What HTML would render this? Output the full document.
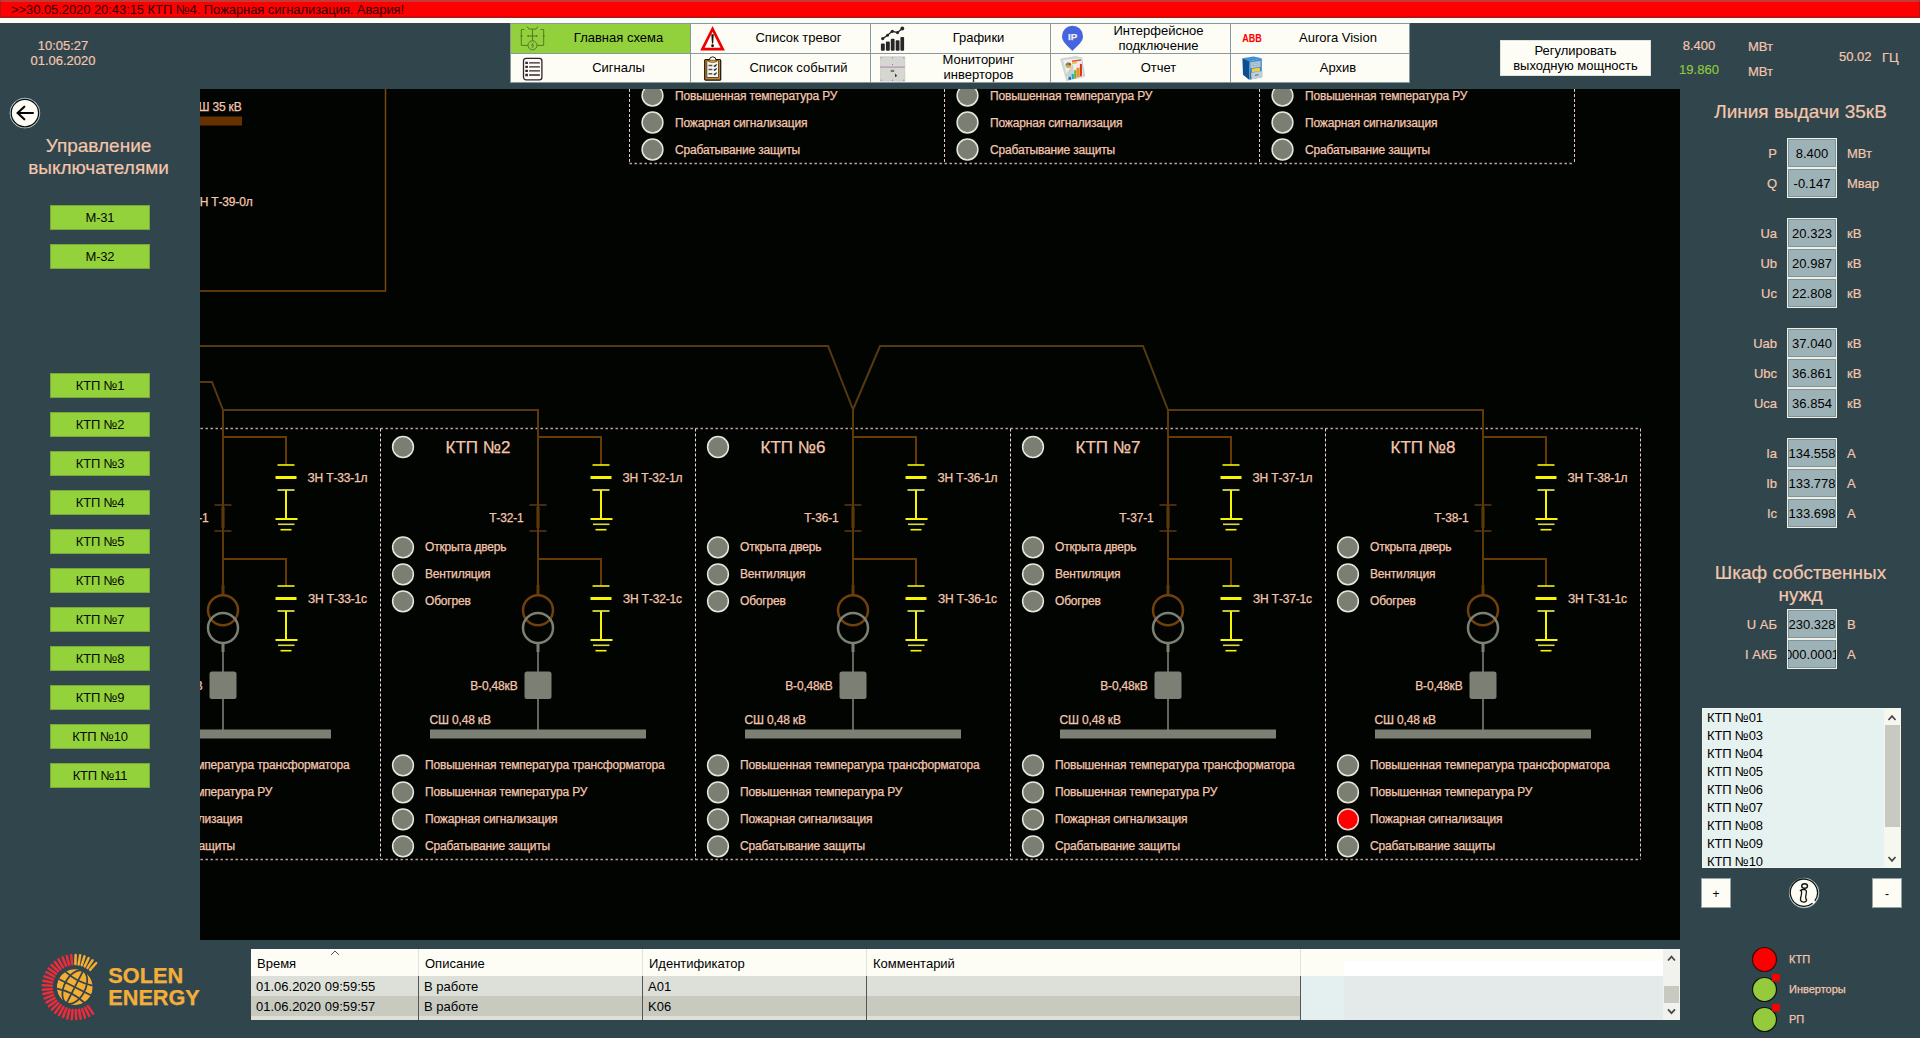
<!DOCTYPE html>
<html lang="ru"><head><meta charset="utf-8"><title>SCADA</title>
<style>
*{box-sizing:border-box;margin:0;padding:0}
html,body{width:1920px;height:1038px;overflow:hidden;background:#30454c;font-family:"Liberation Sans",sans-serif;}
body{position:relative}
.abs{position:absolute}
.t{position:absolute;white-space:nowrap;color:#f3c6ae;font-size:12px;line-height:14px;-webkit-text-stroke:0.2px #f3c6ae}
.c{text-align:center}
.r{text-align:right}
.btn{position:absolute;background:#94d23c;color:#050a00;font-size:13px;line-height:23px;text-align:center;width:100px;height:25px;border:1px solid #78a83a;letter-spacing:-0.2px}
.nav{position:absolute;width:181px;height:31px;background:#fdfdf6;border:1px solid #879aa0;color:#000;font-size:13px;}
.nav .lbl{position:absolute;left:36px;right:0;top:-1px;height:29px;display:flex;align-items:center;justify-content:center;text-align:center;line-height:15px}
.nav svg{position:absolute;margin-top:-1px}
.vb{position:absolute;left:1787px;width:50px;height:29.500px;padding-top:1px;background:#9db2b7;border:1px solid #eef0e6;box-shadow:inset 0 0 0 1px #7f9398;color:#000;font-size:13px;line-height:28px;text-align:center;overflow:hidden;white-space:nowrap}
.vl{position:absolute;width:90px;left:1687px;text-align:right;color:#f3c6ae;font-size:13px;line-height:16px;white-space:nowrap;-webkit-text-stroke:0.2px #f3c6ae}
.vu{position:absolute;left:1847px;color:#f3c6ae;font-size:13px;line-height:16px;white-space:nowrap;-webkit-text-stroke:0.2px #f3c6ae}
.li{position:absolute;left:4px;letter-spacing:-0.15px;font-size:13px;line-height:18px;color:#000;white-space:nowrap}
</style></head><body>

<div class="abs" style="left:0;top:0;width:1920px;height:18px;background:#fe0000;border:1px solid #b01818;border-top:2px solid #c43a3a;border-bottom:2px solid #c01010"></div>
<div class="abs" style="left:0;top:18px;width:1920px;height:5px;background:#fdfdf8"></div>
<div class="abs" style="left:11px;top:2px;font-size:13px;line-height:16px;color:#2c0000;white-space:nowrap;letter-spacing:-0.07px">&gt;&gt;30.05.2020 20:43:15 КТП №4. Пожарная сигнализация. Авария!</div>
<div class="t c" style="left:13px;top:38px;width:100px;font-size:13px;line-height:15px">10:05:27<br>01.06.2020</div>
<div class="nav" style="left:510px;top:23px;height:30.5px;width:181px;background:#92d03c"><svg style="left:9px;top:2px" width="26" height="27" viewBox="0 0 26 27" fill="none" stroke="#56782c" stroke-width="1"><path d="M4.300 4.500h-3v15.900h6.700M20.700 4.500h3v15.900h-6.700"/><path d="M7 1.500l2 2.600h7l2-2.600"/><path d="M12.500 4.100v11.700"/><path d="M9.500 11h6" stroke-width="1.200"/><g fill="#56782c" stroke="none"><rect x="0.700" y="10.100" width="1.600" height="1.800"/><rect x="7.400" y="10.100" width="1.700" height="1.800"/><rect x="15.700" y="10.100" width="1.700" height="1.800"/><rect x="22.900" y="10.100" width="1.600" height="1.800"/></g><circle cx="12.500" cy="20.300" r="4.500"/><path d="M13.300 17.600l-1.800 2.600h2.200l-1.800 2.800" stroke-width="0.900"/></svg><div class="lbl">Главная схема</div></div>
<div class="nav" style="left:690px;top:23px;height:30.5px;width:181px;background:#fdfdf6"><svg style="left:9px;top:2px" width="28" height="27" viewBox="0 0 28 27"><path d="M12.550 4L2.400 24.150H22.700Z" fill="#fdfdf6" stroke="#ee0000" stroke-width="2.700" stroke-linejoin="miter"/><path d="M11.350 9.300h2.400l-0.600 9.200h-1.200z" fill="#111"/><circle cx="12.550" cy="20.750" r="1.400" fill="#111"/></svg><div class="lbl">Список тревог</div></div>
<div class="nav" style="left:870px;top:23px;height:30.5px;width:181px;background:#fdfdf6"><svg style="left:9px;top:3px" width="26" height="26" viewBox="0 0 26 26"><g fill="#262626"><rect x="0.900" y="17.500" width="3.900" height="7.300" rx="1"/><rect x="5.900" y="15.600" width="3.900" height="9.200" rx="1"/><rect x="10.800" y="12.800" width="3.800" height="12" rx="1"/><rect x="15.700" y="14.300" width="3.800" height="10.500" rx="1"/><rect x="20.400" y="10.900" width="3.700" height="13.900" rx="1"/></g><path d="M2.700 12.600L7.500 9.300L12.300 5.300L17.500 6.600L22.300 2.500" fill="none" stroke="#262626" stroke-width="1.300"/><g fill="#262626"><circle cx="2.700" cy="12.600" r="1.600"/><circle cx="7.500" cy="9.300" r="1.500"/><circle cx="12.300" cy="5.300" r="1.600"/><circle cx="17.500" cy="6.600" r="1.600"/><circle cx="22.300" cy="2.500" r="1.900"/></g></svg><div class="lbl">Графики</div></div>
<div class="nav" style="left:1050px;top:23px;height:30.5px;width:181px;background:#fdfdf6"><svg style="left:11px;top:2px" width="22" height="27" viewBox="0 0 22 27"><path d="M10.400 26C5.500 20.500 0 17.200 0 11.200a10.500 10.400 0 0 1 21 0c0 6-5.500 9.300-10.600 14.800z" fill="#4565e0"/><text x="10.700" y="14.700" font-family="Liberation Sans, sans-serif" font-size="9.800" font-weight="bold" fill="#eef2ff" text-anchor="middle">IP</text></svg><div class="lbl">Интерфейсное<br>подключение</div></div>
<div class="nav" style="left:1230px;top:23px;height:30.5px;width:180px;background:#fdfdf6"><svg style="left:11px;top:10px" width="24" height="12" viewBox="0 0 24 12"><text x="0.300" y="9.400" font-family="Liberation Sans, sans-serif" font-size="10.600" font-weight="bold" fill="#ff0000" stroke="#ff0000" stroke-width="1.100" textLength="19.500" lengthAdjust="spacingAndGlyphs">ABB</text></svg><div class="lbl">Aurora Vision</div></div>
<div class="nav" style="left:510px;top:52.5px;height:30px;width:181px;background:#fdfdf6"><svg style="left:11px;top:4px" width="22" height="25" viewBox="0 0 22 25" fill="none" stroke="#33222f" stroke-width="1.300"><rect x="1.500" y="1.300" width="18.400" height="21.600" rx="2.600" fill="#fdfdf6"/><path d="M7.100 5.900h10.800M7.100 9.900h10.800M7.100 13.900h10.800M7.100 18h10.800" stroke-width="1.400"/><path d="M3.300 5.900h2.600M3.300 9.900h2.600M3.300 13.900h2.600M3.300 18h2.600" stroke-width="2.400"/></svg><div class="lbl">Сигналы</div></div>
<div class="nav" style="left:690px;top:52.5px;height:30px;width:181px;background:#fdfdf6"><svg style="left:12px;top:3.500px" width="20" height="26" viewBox="0 0 20 26"><rect x="1.700" y="3.500" width="16" height="20.700" rx="1" fill="#c8842c" stroke="#1a1208" stroke-width="1.200"/><rect x="3.900" y="4.800" width="11.600" height="16.600" fill="#f6f6ee" stroke="#222" stroke-width="0.700"/><path d="M6.300 4.600Q6.300 0.800 9.700 0.800Q13.100 0.800 13.100 4.600" fill="#fdfdf6" stroke="#222" stroke-width="1"/><path d="M5.800 4.200h7.800v1.600q-3.900 1.600-7.800 0z" fill="#d8a028" stroke="#3a2a08" stroke-width="0.500"/><path d="M5.500 9.600h3.800M5.500 13.500h3.800M5.500 17.800h3.800" stroke="#555" stroke-width="1.500"/><path d="M10.800 9.600l1 0.800 1.800-2M10.800 13.500l1 0.800 1.800-2M10.800 17.800l1 0.800 1.800-2" stroke="#222" fill="none" stroke-width="1.200"/></svg><div class="lbl">Список событий</div></div>
<div class="nav" style="left:870px;top:52.5px;height:30px;width:181px;background:#fdfdf6"><svg style="left:9px;top:3px" width="26" height="26" viewBox="0 0 26 26"><rect x="0.200" y="0.750" width="24.600" height="24.450" fill="#d6d7d0"/><path d="M0.200 0.750h24.600v24.450h-24.600z" fill="none" stroke="#c4b4c4" stroke-width="0.500"/><path d="M0.200 11.100h24.600" stroke="#a878a8" stroke-width="0.900"/><rect x="10.700" y="13.800" width="3.500" height="2.200" fill="#77786f"/><path d="M15.100 17.600l2 2.200-2 1.400z" fill="#222"/><g fill="#b060b0"><rect x="0.700" y="1.300" width="1" height="1"/><rect x="12" y="1.300" width="1" height="1"/><rect x="23.300" y="1.300" width="1" height="1"/><rect x="0.700" y="23.700" width="1" height="1"/><rect x="12" y="23.700" width="1" height="1"/><rect x="23.300" y="23.700" width="1" height="1"/><rect x="12" y="8" width="1" height="1"/></g></svg><div class="lbl">Мониторинг<br>инверторов</div></div>
<div class="nav" style="left:1050px;top:52.5px;height:30px;width:181px;background:#fdfdf6"><svg style="left:9px;top:3px" width="28" height="28" viewBox="0 0 28 28"><path d="M0.700 3l15-2.400 6 1.500 3 18-18 4.500z" fill="#dfe4e6" stroke="#b4bcc0" stroke-width="0.600"/><path d="M2.500 3.500l19-1.800 2 19-16 3z" fill="#eef0ee" stroke="#bcc4c6" stroke-width="0.600"/><path d="M5 20L13 8l1 12z" fill="#c8d0d4"/><circle cx="8.400" cy="9.200" r="2.800" fill="#d8b030"/><path d="M8.400 9.200V6.400A2.800 2.800 0 0 1 11.200 9.200z" fill="#d83020"/><path d="M8.400 9.200V6.400A2.800 2.800 0 0 0 5.600 9.200z" fill="#30a0b8"/><path d="M12 4.500l9-1.300v1.600l-9 1.300z" fill="#e85030"/><path d="M12 6.600l5-0.800v1.400l-5 0.800z" fill="#e8b040"/><rect x="8.400" y="20.600" width="2.600" height="3.200" fill="#2870b0"/><rect x="11.600" y="18" width="2.300" height="5" fill="#28a8c0"/><rect x="14.200" y="14.200" width="2" height="8.300" fill="#68b030"/><rect x="16.400" y="11.700" width="3.200" height="9.500" fill="#f09020"/><rect x="19.900" y="7.900" width="2" height="12.400" fill="#d83018"/></svg><div class="lbl">Отчет</div></div>
<div class="nav" style="left:1230px;top:52.5px;height:30px;width:180px;background:#fdfdf6"><svg style="left:11px;top:3.500px" width="24" height="26" viewBox="0 0 24 26"><path d="M0.400 2.150L11.500 0.600L19.800 2.150L7.700 5.300Z" fill="#3f8fd8"/><path d="M0.400 2.150L7.700 5.300L7.100 23.800L1 18.700Z" fill="#0d4f8c"/><path d="M7.700 5.300L19.800 2.150V21.200L7.100 23.800Z" fill="#3a8ad0"/><path d="M8.350 6.300L18.500 4.700V11.100L8.350 12.300Z" fill="#b0c4d0"/><path d="M11.500 8.200l4-0.600v1.200l-4 0.600z" fill="#e4eaec" stroke="#7a8890" stroke-width="0.400"/><path d="M9.900 12.650L17.900 11.700V15.500L9.900 16.100Z" fill="#f4cc40"/><path d="M9 16.800L20.750 14.900L20.400 21.200L9.300 23.500Z" fill="#bcd0dc"/><path d="M8.300 14.500L9 16.800L9.300 23.500L8.300 22z" fill="#4a5a68"/><path d="M13 18.800l3.500-0.500v1l-3.500 0.500z" fill="#5a6468"/></svg><div class="lbl">Архив</div></div>
<div class="abs" style="left:1500px;top:40px;width:151px;height:36px;background:#fdfdf6;border:1px solid #dfe3dc;color:#000;font-size:13px;line-height:15px;text-align:center;padding-top:2px">Регулировать<br>выходную мощность</div>
<div class="t c" style="left:1669px;top:38px;width:60px;font-size:13px;line-height:15px">8.400</div>
<div class="t" style="left:1748px;top:39px;font-size:13px;line-height:15px">МВт</div>
<div class="t c" style="left:1669px;top:62px;width:60px;font-size:13px;line-height:15px;color:#8fc63e;-webkit-text-stroke:0.2px #8fc63e">19.860</div>
<div class="t" style="left:1748px;top:64px;font-size:13px;line-height:15px">МВт</div>
<div class="t" style="left:1839px;top:49px;font-size:13px;line-height:16px">50.02</div>
<div class="t" style="left:1882px;top:50px;font-size:13px;line-height:16px">ГЦ</div>
<svg class="abs" style="left:9px;top:97px" width="32" height="32" viewBox="0 0 32 32"><circle cx="15.900" cy="16.100" r="14.900" fill="#fdfdf6" stroke="#a9c0c8" stroke-width="0.900"/><circle cx="15.900" cy="16.100" r="13.700" fill="none" stroke="#10100c" stroke-width="1.300"/><path d="M24 16H9M15.300 9.700L8.600 16l6.700 6.300" fill="none" stroke="#050505" stroke-width="2.100" stroke-linecap="round" stroke-linejoin="miter"/></svg>
<div class="t c" style="left:0;top:135px;width:197px;font-size:19px;line-height:22px">Управление<br>выключателями</div>
<div class="btn" style="left:50px;top:205px">М-31</div>
<div class="btn" style="left:50px;top:244px">М-32</div>
<div class="btn" style="left:50px;top:373px">КТП №1</div>
<div class="btn" style="left:50px;top:412px">КТП №2</div>
<div class="btn" style="left:50px;top:451px">КТП №3</div>
<div class="btn" style="left:50px;top:490px">КТП №4</div>
<div class="btn" style="left:50px;top:529px">КТП №5</div>
<div class="btn" style="left:50px;top:568px">КТП №6</div>
<div class="btn" style="left:50px;top:607px">КТП №7</div>
<div class="btn" style="left:50px;top:646px">КТП №8</div>
<div class="btn" style="left:50px;top:685px">КТП №9</div>
<div class="btn" style="left:50px;top:724px">КТП №10</div>
<div class="btn" style="left:50px;top:763px">КТП №11</div>
<svg class="abs" style="left:38px;top:951px" width="170" height="72" viewBox="0 0 170 72"><path d="M37.40 13.11L37.64 3.91" stroke="#f5ad33" stroke-width="2.500" stroke-linecap="round"/><path d="M40.60 13.42L42.11 4.34" stroke="#f5ad33" stroke-width="2.500" stroke-linecap="round"/><path d="M43.72 14.16L46.48 5.39" stroke="#f5ad33" stroke-width="2.500" stroke-linecap="round"/><path d="M46.70 15.34L50.66 7.04" stroke="#f5ad33" stroke-width="2.500" stroke-linecap="round"/><path d="M49.49 16.92L54.57 9.25" stroke="#f5ad33" stroke-width="2.500" stroke-linecap="round"/><path d="M52.04 18.87L58.14 11.98" stroke="#f5ad33" stroke-width="2.500" stroke-linecap="round"/><path d="M34.20 13.25L33.15 4.11" stroke="#ee2b3b" stroke-width="2.500" stroke-linecap="round"/><path d="M31.04 13.83L28.74 4.93" stroke="#ee2b3b" stroke-width="2.500" stroke-linecap="round"/><path d="M28.00 14.85L24.48 6.35" stroke="#ee2b3b" stroke-width="2.500" stroke-linecap="round"/><path d="M25.13 16.28L20.46 8.36" stroke="#ee2b3b" stroke-width="2.500" stroke-linecap="round"/><path d="M22.48 18.10L16.76 10.90" stroke="#ee2b3b" stroke-width="2.500" stroke-linecap="round"/><path d="M20.12 20.27L13.44 13.93" stroke="#ee2b3b" stroke-width="2.500" stroke-linecap="round"/><path d="M18.08 22.74L10.59 17.40" stroke="#ee2b3b" stroke-width="2.500" stroke-linecap="round"/><path d="M16.40 25.48L8.24 21.23" stroke="#ee2b3b" stroke-width="2.500" stroke-linecap="round"/><path d="M15.12 28.42L6.45 25.35" stroke="#ee2b3b" stroke-width="2.500" stroke-linecap="round"/><path d="M14.26 31.51L5.25 29.68" stroke="#ee2b3b" stroke-width="2.500" stroke-linecap="round"/><path d="M13.84 34.70L4.66 34.13" stroke="#ee2b3b" stroke-width="2.500" stroke-linecap="round"/><path d="M13.87 37.90L4.70 38.63" stroke="#ee2b3b" stroke-width="2.500" stroke-linecap="round"/><path d="M14.35 41.08L5.36 43.07" stroke="#ee2b3b" stroke-width="2.500" stroke-linecap="round"/><path d="M15.26 44.15L6.64 47.38" stroke="#ee2b3b" stroke-width="2.500" stroke-linecap="round"/><path d="M16.59 47.07L8.50 51.46" stroke="#ee2b3b" stroke-width="2.500" stroke-linecap="round"/><path d="M18.31 49.78L10.92 55.25" stroke="#ee2b3b" stroke-width="2.500" stroke-linecap="round"/><path d="M20.40 52.22L13.83 58.67" stroke="#ee2b3b" stroke-width="2.500" stroke-linecap="round"/><path d="M22.80 54.35L17.20 61.65" stroke="#ee2b3b" stroke-width="2.500" stroke-linecap="round"/><path d="M25.47 56.12L20.94 64.13" stroke="#ee2b3b" stroke-width="2.500" stroke-linecap="round"/><path d="M28.37 57.50L25.00 66.06" stroke="#ee2b3b" stroke-width="2.500" stroke-linecap="round"/><path d="M31.43 58.46L29.28 67.41" stroke="#ee2b3b" stroke-width="2.500" stroke-linecap="round"/><path d="M34.60 58.99L33.71 68.15" stroke="#ee2b3b" stroke-width="2.500" stroke-linecap="round"/><path d="M37.80 59.08L38.20 68.27" stroke="#ee2b3b" stroke-width="2.500" stroke-linecap="round"/><path d="M40.99 58.71L42.67 67.76" stroke="#ee2b3b" stroke-width="2.500" stroke-linecap="round"/><path d="M44.10 57.91L47.02 66.64" stroke="#ee2b3b" stroke-width="2.500" stroke-linecap="round"/><path d="M47.06 56.68L51.17 64.92" stroke="#ee2b3b" stroke-width="2.500" stroke-linecap="round"/><path d="M49.83 55.05L55.04 62.64" stroke="#ee2b3b" stroke-width="2.500" stroke-linecap="round"/><circle cx="36.8" cy="36.1" r="18" fill="#f5ad33"/><g transform="translate(36.8 36.1) rotate(27)" stroke="#30454c" stroke-width="1.800" fill="none"><ellipse rx="10.500" ry="18"/><path d="M0 -18V18"/><path d="M-18 0H18"/><path d="M-15.300 -9.500Q0 -5 15.300 -9.500M-15.300 9.500Q0 5 15.300 9.500"/></g><circle cx="36.8" cy="36.1" r="18.600" fill="none" stroke="#30454c" stroke-width="1.300"/><text x="70.300" y="32.200" font-family="Liberation Sans, sans-serif" font-weight="bold" font-size="22" fill="#f5ad33" textLength="74.800" lengthAdjust="spacingAndGlyphs">SOLEN</text><text x="70.300" y="54.300" font-family="Liberation Sans, sans-serif" font-weight="bold" font-size="21.300" fill="#f5ad33" textLength="91.500" lengthAdjust="spacingAndGlyphs">ENERGY</text></svg>
<svg class="abs" style="left:200px;top:89px" width="1480" height="851" viewBox="200 89 1480 851" font-family="Liberation Sans, sans-serif"><style>text{stroke:#f3c6ae;stroke-width:0.25px;paint-order:stroke}</style><rect x="200" y="89" width="1480" height="851" fill="#020402"/><defs><g id="ind"><circle r="10.400" fill="#7b7e73" stroke="#e4e8da" stroke-width="1.500"/></g><g id="indr"><circle r="10.400" fill="#fe0000" stroke="#e8d8d0" stroke-width="1.500"/></g><g id="gs" fill="none"><path d="M-8.500 0h17" stroke="#f6f600" stroke-width="1.600"/><path d="M-10.500 12.500h21" stroke="#f6f600" stroke-width="3"/><path d="M-8.500 25h17" stroke="#d8d84a" stroke-width="1.800"/><path d="M0 25v29" stroke="#f6f600" stroke-width="2"/><path d="M-10.500 54h22" stroke="#f6f600" stroke-width="2"/><path d="M-8 59.300h16.500" stroke="#d8d84a" stroke-width="1.600"/><path d="M-5.500 64.700h11" stroke="#f6f600" stroke-width="1.600"/></g></defs><rect x="200" y="116.500" width="42" height="9" fill="#663300"/><text x="241.5" y="111" font-size="12" fill="#f3c6ae" text-anchor="end" letter-spacing="-0.17">СШ 35 кВ</text><text x="252.5" y="206" font-size="12" fill="#f3c6ae" text-anchor="end" letter-spacing="-0.17">ЗН Т-39-0л</text><path d="M385.500 89V291H200" fill="none" stroke="#7a480c" stroke-width="1.500"/><path d="M629.5 163.5h315" stroke="#c4a8a8" stroke-width="1.300" stroke-dasharray="2.400 2.600" fill="none"/><path d="M629.5 89v74.5" stroke="#e6c6c0" stroke-width="1" stroke-dasharray="3 2" fill="none"/><use href="#ind" x="652.5" y="95.5"/><text x="675" y="100.1" font-size="12" fill="#f3c6ae" text-anchor="start" letter-spacing="-0.17">Повышенная температура РУ</text><use href="#ind" x="652.5" y="122.5"/><text x="675" y="127.1" font-size="12" fill="#f3c6ae" text-anchor="start" letter-spacing="-0.17">Пожарная сигнализация</text><use href="#ind" x="652.5" y="149.5"/><text x="675" y="154.1" font-size="12" fill="#f3c6ae" text-anchor="start" letter-spacing="-0.17">Срабатывание защиты</text><path d="M944.5 163.5h315" stroke="#c4a8a8" stroke-width="1.300" stroke-dasharray="2.400 2.600" fill="none"/><path d="M944.5 89v74.5" stroke="#e6c6c0" stroke-width="1" stroke-dasharray="3 2" fill="none"/><use href="#ind" x="967.5" y="95.5"/><text x="990" y="100.1" font-size="12" fill="#f3c6ae" text-anchor="start" letter-spacing="-0.17">Повышенная температура РУ</text><use href="#ind" x="967.5" y="122.5"/><text x="990" y="127.1" font-size="12" fill="#f3c6ae" text-anchor="start" letter-spacing="-0.17">Пожарная сигнализация</text><use href="#ind" x="967.5" y="149.5"/><text x="990" y="154.1" font-size="12" fill="#f3c6ae" text-anchor="start" letter-spacing="-0.17">Срабатывание защиты</text><path d="M1259.5 163.5h315" stroke="#c4a8a8" stroke-width="1.300" stroke-dasharray="2.400 2.600" fill="none"/><path d="M1259.5 89v74.5" stroke="#e6c6c0" stroke-width="1" stroke-dasharray="3 2" fill="none"/><path d="M1574.5 89v74.5" stroke="#e6c6c0" stroke-width="1" stroke-dasharray="3 2" fill="none"/><use href="#ind" x="1282.5" y="95.5"/><text x="1305" y="100.1" font-size="12" fill="#f3c6ae" text-anchor="start" letter-spacing="-0.17">Повышенная температура РУ</text><use href="#ind" x="1282.5" y="122.5"/><text x="1305" y="127.1" font-size="12" fill="#f3c6ae" text-anchor="start" letter-spacing="-0.17">Пожарная сигнализация</text><use href="#ind" x="1282.5" y="149.5"/><text x="1305" y="154.1" font-size="12" fill="#f3c6ae" text-anchor="start" letter-spacing="-0.17">Срабатывание защиты</text><path d="M200 346H828L853 409.500" fill="none" stroke="#553a10" stroke-width="2"/><path d="M853 409.500L880 346H1143L1168 410H1484" fill="none" stroke="#553a10" stroke-width="2"/><path d="M200 382H212L223 410H539" fill="none" stroke="#553a10" stroke-width="2"/><path d="M65.5 428.5h315" stroke="#c4a8a8" stroke-width="1.300" stroke-dasharray="2.400 2.600" fill="none"/><path d="M65.5 859.5h315" stroke="#c4a8a8" stroke-width="1.300" stroke-dasharray="2.400 2.600" fill="none"/><path d="M65.5 428.500v431" stroke="#f0d8d0" stroke-width="1" stroke-dasharray="3 2" fill="none"/><use href="#ind" x="88.0" y="447"/><text x="163.0" y="453" font-size="17" fill="#f3c6ae" text-anchor="middle">КТП №3</text><path d="M223.0 409V586" fill="none" stroke="#5e3909" stroke-width="2"/><path d="M223.0 585V595" stroke="#5e3909" stroke-width="3" fill="none"/><path d="M223.0 437H286.0V465" fill="none" stroke="#683a04" stroke-width="2"/><path d="M223.0 559H286.0V586" fill="none" stroke="#683a04" stroke-width="2"/><use href="#gs" x="286.0" y="465"/><use href="#gs" x="286.0" y="586"/><text x="307.5" y="482" font-size="12" fill="#f3c6ae" text-anchor="start" letter-spacing="-0.17">ЗН Т-33-1л</text><text x="308.0" y="603" font-size="12" fill="#f3c6ae" text-anchor="start" letter-spacing="-0.17">ЗН Т-33-1с</text><path d="M214.5 505h17M214.5 531h17" stroke="#5e3a10" stroke-width="1.300" fill="none"/><path d="M223.0 507V528" stroke="#5c380a" stroke-width="3.200" fill="none"/><text x="208.5" y="522" font-size="12" fill="#f3c6ae" text-anchor="end" letter-spacing="-0.17">Т-33-1</text><circle cx="223.0" cy="610.200" r="15" fill="none" stroke="#72400a" stroke-width="2.500"/><circle cx="223.0" cy="628" r="15" fill="none" stroke="#7c8074" stroke-width="2.500"/><path d="M223.0 643V652" stroke="#7c8074" stroke-width="3" fill="none"/><path d="M223.0 650V730" stroke="#7c8074" stroke-width="1.600" fill="none"/><rect x="209.5" y="671.500" width="27" height="27.500" rx="2.500" fill="#7c8074"/><text x="202.5" y="690" font-size="12" fill="#f3c6ae" text-anchor="end" letter-spacing="-0.17">В-0,48кВ</text><rect x="115.0" y="729.500" width="216" height="9" fill="#7c8074"/><text x="114.5" y="724" font-size="12" fill="#f3c6ae" text-anchor="start" letter-spacing="-0.17">СШ 0,48 кВ</text><use href="#ind" x="88.0" y="547.3"/><text x="110.0" y="550.8" font-size="12" fill="#f3c6ae" text-anchor="start" letter-spacing="-0.17">Открыта дверь</text><use href="#ind" x="88.0" y="574.3"/><text x="110.0" y="577.8" font-size="12" fill="#f3c6ae" text-anchor="start" letter-spacing="-0.17">Вентиляция</text><use href="#ind" x="88.0" y="601.3"/><text x="110.0" y="604.8" font-size="12" fill="#f3c6ae" text-anchor="start" letter-spacing="-0.17">Обогрев</text><use href="#ind" x="88.0" y="765.3"/><text x="110.0" y="768.8" font-size="12" fill="#f3c6ae" text-anchor="start" letter-spacing="-0.17">Повышенная температура трансформатора</text><use href="#ind" x="88.0" y="792.3"/><text x="110.0" y="795.8" font-size="12" fill="#f3c6ae" text-anchor="start" letter-spacing="-0.17">Повышенная температура РУ</text><use href="#ind" x="88.0" y="819.3"/><text x="110.0" y="822.8" font-size="12" fill="#f3c6ae" text-anchor="start" letter-spacing="-0.17">Пожарная сигнализация</text><use href="#ind" x="88.0" y="846.3"/><text x="110.0" y="849.8" font-size="12" fill="#f3c6ae" text-anchor="start" letter-spacing="-0.17">Срабатывание защиты</text><path d="M380.5 428.5h315" stroke="#c4a8a8" stroke-width="1.300" stroke-dasharray="2.400 2.600" fill="none"/><path d="M380.5 859.5h315" stroke="#c4a8a8" stroke-width="1.300" stroke-dasharray="2.400 2.600" fill="none"/><path d="M380.5 428.500v431" stroke="#f0d8d0" stroke-width="1" stroke-dasharray="3 2" fill="none"/><use href="#ind" x="403.0" y="447"/><text x="478.0" y="453" font-size="17" fill="#f3c6ae" text-anchor="middle">КТП №2</text><path d="M538.0 409V586" fill="none" stroke="#5e3909" stroke-width="2"/><path d="M538.0 585V595" stroke="#5e3909" stroke-width="3" fill="none"/><path d="M538.0 437H601.0V465" fill="none" stroke="#683a04" stroke-width="2"/><path d="M538.0 559H601.0V586" fill="none" stroke="#683a04" stroke-width="2"/><use href="#gs" x="601.0" y="465"/><use href="#gs" x="601.0" y="586"/><text x="622.5" y="482" font-size="12" fill="#f3c6ae" text-anchor="start" letter-spacing="-0.17">ЗН Т-32-1л</text><text x="623.0" y="603" font-size="12" fill="#f3c6ae" text-anchor="start" letter-spacing="-0.17">ЗН Т-32-1с</text><path d="M529.5 505h17M529.5 531h17" stroke="#5e3a10" stroke-width="1.300" fill="none"/><path d="M538.0 507V528" stroke="#5c380a" stroke-width="3.200" fill="none"/><text x="523.5" y="522" font-size="12" fill="#f3c6ae" text-anchor="end" letter-spacing="-0.17">Т-32-1</text><circle cx="538.0" cy="610.200" r="15" fill="none" stroke="#72400a" stroke-width="2.500"/><circle cx="538.0" cy="628" r="15" fill="none" stroke="#7c8074" stroke-width="2.500"/><path d="M538.0 643V652" stroke="#7c8074" stroke-width="3" fill="none"/><path d="M538.0 650V730" stroke="#7c8074" stroke-width="1.600" fill="none"/><rect x="524.5" y="671.500" width="27" height="27.500" rx="2.500" fill="#7c8074"/><text x="517.5" y="690" font-size="12" fill="#f3c6ae" text-anchor="end" letter-spacing="-0.17">В-0,48кВ</text><rect x="430.0" y="729.500" width="216" height="9" fill="#7c8074"/><text x="429.5" y="724" font-size="12" fill="#f3c6ae" text-anchor="start" letter-spacing="-0.17">СШ 0,48 кВ</text><use href="#ind" x="403.0" y="547.3"/><text x="425.0" y="550.8" font-size="12" fill="#f3c6ae" text-anchor="start" letter-spacing="-0.17">Открыта дверь</text><use href="#ind" x="403.0" y="574.3"/><text x="425.0" y="577.8" font-size="12" fill="#f3c6ae" text-anchor="start" letter-spacing="-0.17">Вентиляция</text><use href="#ind" x="403.0" y="601.3"/><text x="425.0" y="604.8" font-size="12" fill="#f3c6ae" text-anchor="start" letter-spacing="-0.17">Обогрев</text><use href="#ind" x="403.0" y="765.3"/><text x="425.0" y="768.8" font-size="12" fill="#f3c6ae" text-anchor="start" letter-spacing="-0.17">Повышенная температура трансформатора</text><use href="#ind" x="403.0" y="792.3"/><text x="425.0" y="795.8" font-size="12" fill="#f3c6ae" text-anchor="start" letter-spacing="-0.17">Повышенная температура РУ</text><use href="#ind" x="403.0" y="819.3"/><text x="425.0" y="822.8" font-size="12" fill="#f3c6ae" text-anchor="start" letter-spacing="-0.17">Пожарная сигнализация</text><use href="#ind" x="403.0" y="846.3"/><text x="425.0" y="849.8" font-size="12" fill="#f3c6ae" text-anchor="start" letter-spacing="-0.17">Срабатывание защиты</text><path d="M695.5 428.5h315" stroke="#c4a8a8" stroke-width="1.300" stroke-dasharray="2.400 2.600" fill="none"/><path d="M695.5 859.5h315" stroke="#c4a8a8" stroke-width="1.300" stroke-dasharray="2.400 2.600" fill="none"/><path d="M695.5 428.500v431" stroke="#f0d8d0" stroke-width="1" stroke-dasharray="3 2" fill="none"/><use href="#ind" x="718.0" y="447"/><text x="793.0" y="453" font-size="17" fill="#f3c6ae" text-anchor="middle">КТП №6</text><path d="M853.0 409V586" fill="none" stroke="#5e3909" stroke-width="2"/><path d="M853.0 585V595" stroke="#5e3909" stroke-width="3" fill="none"/><path d="M853.0 437H916.0V465" fill="none" stroke="#683a04" stroke-width="2"/><path d="M853.0 559H916.0V586" fill="none" stroke="#683a04" stroke-width="2"/><use href="#gs" x="916.0" y="465"/><use href="#gs" x="916.0" y="586"/><text x="937.5" y="482" font-size="12" fill="#f3c6ae" text-anchor="start" letter-spacing="-0.17">ЗН Т-36-1л</text><text x="938.0" y="603" font-size="12" fill="#f3c6ae" text-anchor="start" letter-spacing="-0.17">ЗН Т-36-1с</text><path d="M844.5 505h17M844.5 531h17" stroke="#5e3a10" stroke-width="1.300" fill="none"/><path d="M853.0 507V528" stroke="#5c380a" stroke-width="3.200" fill="none"/><text x="838.5" y="522" font-size="12" fill="#f3c6ae" text-anchor="end" letter-spacing="-0.17">Т-36-1</text><circle cx="853.0" cy="610.200" r="15" fill="none" stroke="#72400a" stroke-width="2.500"/><circle cx="853.0" cy="628" r="15" fill="none" stroke="#7c8074" stroke-width="2.500"/><path d="M853.0 643V652" stroke="#7c8074" stroke-width="3" fill="none"/><path d="M853.0 650V730" stroke="#7c8074" stroke-width="1.600" fill="none"/><rect x="839.5" y="671.500" width="27" height="27.500" rx="2.500" fill="#7c8074"/><text x="832.5" y="690" font-size="12" fill="#f3c6ae" text-anchor="end" letter-spacing="-0.17">В-0,48кВ</text><rect x="745.0" y="729.500" width="216" height="9" fill="#7c8074"/><text x="744.5" y="724" font-size="12" fill="#f3c6ae" text-anchor="start" letter-spacing="-0.17">СШ 0,48 кВ</text><use href="#ind" x="718.0" y="547.3"/><text x="740.0" y="550.8" font-size="12" fill="#f3c6ae" text-anchor="start" letter-spacing="-0.17">Открыта дверь</text><use href="#ind" x="718.0" y="574.3"/><text x="740.0" y="577.8" font-size="12" fill="#f3c6ae" text-anchor="start" letter-spacing="-0.17">Вентиляция</text><use href="#ind" x="718.0" y="601.3"/><text x="740.0" y="604.8" font-size="12" fill="#f3c6ae" text-anchor="start" letter-spacing="-0.17">Обогрев</text><use href="#ind" x="718.0" y="765.3"/><text x="740.0" y="768.8" font-size="12" fill="#f3c6ae" text-anchor="start" letter-spacing="-0.17">Повышенная температура трансформатора</text><use href="#ind" x="718.0" y="792.3"/><text x="740.0" y="795.8" font-size="12" fill="#f3c6ae" text-anchor="start" letter-spacing="-0.17">Повышенная температура РУ</text><use href="#ind" x="718.0" y="819.3"/><text x="740.0" y="822.8" font-size="12" fill="#f3c6ae" text-anchor="start" letter-spacing="-0.17">Пожарная сигнализация</text><use href="#ind" x="718.0" y="846.3"/><text x="740.0" y="849.8" font-size="12" fill="#f3c6ae" text-anchor="start" letter-spacing="-0.17">Срабатывание защиты</text><path d="M1010.5 428.5h315" stroke="#c4a8a8" stroke-width="1.300" stroke-dasharray="2.400 2.600" fill="none"/><path d="M1010.5 859.5h315" stroke="#c4a8a8" stroke-width="1.300" stroke-dasharray="2.400 2.600" fill="none"/><path d="M1010.5 428.500v431" stroke="#f0d8d0" stroke-width="1" stroke-dasharray="3 2" fill="none"/><use href="#ind" x="1033.0" y="447"/><text x="1108.0" y="453" font-size="17" fill="#f3c6ae" text-anchor="middle">КТП №7</text><path d="M1168.0 409V586" fill="none" stroke="#5e3909" stroke-width="2"/><path d="M1168.0 585V595" stroke="#5e3909" stroke-width="3" fill="none"/><path d="M1168.0 437H1231.0V465" fill="none" stroke="#683a04" stroke-width="2"/><path d="M1168.0 559H1231.0V586" fill="none" stroke="#683a04" stroke-width="2"/><use href="#gs" x="1231.0" y="465"/><use href="#gs" x="1231.0" y="586"/><text x="1252.5" y="482" font-size="12" fill="#f3c6ae" text-anchor="start" letter-spacing="-0.17">ЗН Т-37-1л</text><text x="1253.0" y="603" font-size="12" fill="#f3c6ae" text-anchor="start" letter-spacing="-0.17">ЗН Т-37-1с</text><path d="M1159.5 505h17M1159.5 531h17" stroke="#5e3a10" stroke-width="1.300" fill="none"/><path d="M1168.0 507V528" stroke="#5c380a" stroke-width="3.200" fill="none"/><text x="1153.5" y="522" font-size="12" fill="#f3c6ae" text-anchor="end" letter-spacing="-0.17">Т-37-1</text><circle cx="1168.0" cy="610.200" r="15" fill="none" stroke="#72400a" stroke-width="2.500"/><circle cx="1168.0" cy="628" r="15" fill="none" stroke="#7c8074" stroke-width="2.500"/><path d="M1168.0 643V652" stroke="#7c8074" stroke-width="3" fill="none"/><path d="M1168.0 650V730" stroke="#7c8074" stroke-width="1.600" fill="none"/><rect x="1154.5" y="671.500" width="27" height="27.500" rx="2.500" fill="#7c8074"/><text x="1147.5" y="690" font-size="12" fill="#f3c6ae" text-anchor="end" letter-spacing="-0.17">В-0,48кВ</text><rect x="1060.0" y="729.500" width="216" height="9" fill="#7c8074"/><text x="1059.5" y="724" font-size="12" fill="#f3c6ae" text-anchor="start" letter-spacing="-0.17">СШ 0,48 кВ</text><use href="#ind" x="1033.0" y="547.3"/><text x="1055.0" y="550.8" font-size="12" fill="#f3c6ae" text-anchor="start" letter-spacing="-0.17">Открыта дверь</text><use href="#ind" x="1033.0" y="574.3"/><text x="1055.0" y="577.8" font-size="12" fill="#f3c6ae" text-anchor="start" letter-spacing="-0.17">Вентиляция</text><use href="#ind" x="1033.0" y="601.3"/><text x="1055.0" y="604.8" font-size="12" fill="#f3c6ae" text-anchor="start" letter-spacing="-0.17">Обогрев</text><use href="#ind" x="1033.0" y="765.3"/><text x="1055.0" y="768.8" font-size="12" fill="#f3c6ae" text-anchor="start" letter-spacing="-0.17">Повышенная температура трансформатора</text><use href="#ind" x="1033.0" y="792.3"/><text x="1055.0" y="795.8" font-size="12" fill="#f3c6ae" text-anchor="start" letter-spacing="-0.17">Повышенная температура РУ</text><use href="#ind" x="1033.0" y="819.3"/><text x="1055.0" y="822.8" font-size="12" fill="#f3c6ae" text-anchor="start" letter-spacing="-0.17">Пожарная сигнализация</text><use href="#ind" x="1033.0" y="846.3"/><text x="1055.0" y="849.8" font-size="12" fill="#f3c6ae" text-anchor="start" letter-spacing="-0.17">Срабатывание защиты</text><path d="M1325.5 428.5h315" stroke="#c4a8a8" stroke-width="1.300" stroke-dasharray="2.400 2.600" fill="none"/><path d="M1325.5 859.5h315" stroke="#c4a8a8" stroke-width="1.300" stroke-dasharray="2.400 2.600" fill="none"/><path d="M1640.5 428.5v431" stroke="#e6c6c0" stroke-width="1" stroke-dasharray="3 2" fill="none"/><path d="M1325.5 428.500v431" stroke="#f0d8d0" stroke-width="1" stroke-dasharray="3 2" fill="none"/><text x="1423.0" y="453" font-size="17" fill="#f3c6ae" text-anchor="middle">КТП №8</text><path d="M1483.0 409V586" fill="none" stroke="#5e3909" stroke-width="2"/><path d="M1483.0 585V595" stroke="#5e3909" stroke-width="3" fill="none"/><path d="M1483.0 437H1546.0V465" fill="none" stroke="#683a04" stroke-width="2"/><path d="M1483.0 559H1546.0V586" fill="none" stroke="#683a04" stroke-width="2"/><use href="#gs" x="1546.0" y="465"/><use href="#gs" x="1546.0" y="586"/><text x="1567.5" y="482" font-size="12" fill="#f3c6ae" text-anchor="start" letter-spacing="-0.17">ЗН Т-38-1л</text><text x="1568.0" y="603" font-size="12" fill="#f3c6ae" text-anchor="start" letter-spacing="-0.17">ЗН Т-31-1с</text><path d="M1474.5 505h17M1474.5 531h17" stroke="#5e3a10" stroke-width="1.300" fill="none"/><path d="M1483.0 507V528" stroke="#5c380a" stroke-width="3.200" fill="none"/><text x="1468.5" y="522" font-size="12" fill="#f3c6ae" text-anchor="end" letter-spacing="-0.17">Т-38-1</text><circle cx="1483.0" cy="610.200" r="15" fill="none" stroke="#72400a" stroke-width="2.500"/><circle cx="1483.0" cy="628" r="15" fill="none" stroke="#7c8074" stroke-width="2.500"/><path d="M1483.0 643V652" stroke="#7c8074" stroke-width="3" fill="none"/><path d="M1483.0 650V730" stroke="#7c8074" stroke-width="1.600" fill="none"/><rect x="1469.5" y="671.500" width="27" height="27.500" rx="2.500" fill="#7c8074"/><text x="1462.5" y="690" font-size="12" fill="#f3c6ae" text-anchor="end" letter-spacing="-0.17">В-0,48кВ</text><rect x="1375.0" y="729.500" width="216" height="9" fill="#7c8074"/><text x="1374.5" y="724" font-size="12" fill="#f3c6ae" text-anchor="start" letter-spacing="-0.17">СШ 0,48 кВ</text><use href="#ind" x="1348.0" y="547.3"/><text x="1370.0" y="550.8" font-size="12" fill="#f3c6ae" text-anchor="start" letter-spacing="-0.17">Открыта дверь</text><use href="#ind" x="1348.0" y="574.3"/><text x="1370.0" y="577.8" font-size="12" fill="#f3c6ae" text-anchor="start" letter-spacing="-0.17">Вентиляция</text><use href="#ind" x="1348.0" y="601.3"/><text x="1370.0" y="604.8" font-size="12" fill="#f3c6ae" text-anchor="start" letter-spacing="-0.17">Обогрев</text><use href="#ind" x="1348.0" y="765.3"/><text x="1370.0" y="768.8" font-size="12" fill="#f3c6ae" text-anchor="start" letter-spacing="-0.17">Повышенная температура трансформатора</text><use href="#ind" x="1348.0" y="792.3"/><text x="1370.0" y="795.8" font-size="12" fill="#f3c6ae" text-anchor="start" letter-spacing="-0.17">Повышенная температура РУ</text><use href="#indr" x="1348.0" y="819.3"/><text x="1370.0" y="822.8" font-size="12" fill="#f3c6ae" text-anchor="start" letter-spacing="-0.17">Пожарная сигнализация</text><use href="#ind" x="1348.0" y="846.3"/><text x="1370.0" y="849.8" font-size="12" fill="#f3c6ae" text-anchor="start" letter-spacing="-0.17">Срабатывание защиты</text></svg>
<div class="t c" style="left:1681px;top:101px;width:239px;font-size:19px;line-height:22px">Линия выдачи 35кВ</div>
<div class="vl" style="top:146px">P</div>
<div class="vb" style="top:138px">8.400</div>
<div class="vu" style="top:146px">МВт</div>
<div class="vl" style="top:176px">Q</div>
<div class="vb" style="top:168px">-0.147</div>
<div class="vu" style="top:176px">Мвар</div>
<div class="vl" style="top:226px">Ua</div>
<div class="vb" style="top:218px">20.323</div>
<div class="vu" style="top:226px">кВ</div>
<div class="vl" style="top:256px">Ub</div>
<div class="vb" style="top:248px">20.987</div>
<div class="vu" style="top:256px">кВ</div>
<div class="vl" style="top:286px">Uc</div>
<div class="vb" style="top:278px">22.808</div>
<div class="vu" style="top:286px">кВ</div>
<div class="vl" style="top:336px">Uab</div>
<div class="vb" style="top:328px">37.040</div>
<div class="vu" style="top:336px">кВ</div>
<div class="vl" style="top:366px">Ubc</div>
<div class="vb" style="top:358px">36.861</div>
<div class="vu" style="top:366px">кВ</div>
<div class="vl" style="top:396px">Uca</div>
<div class="vb" style="top:388px">36.854</div>
<div class="vu" style="top:396px">кВ</div>
<div class="vl" style="top:446px">Ia</div>
<div class="vb" style="top:438px">134.558</div>
<div class="vu" style="top:446px">A</div>
<div class="vl" style="top:476px">Ib</div>
<div class="vb" style="top:468px">133.778</div>
<div class="vu" style="top:476px">A</div>
<div class="vl" style="top:506px">Ic</div>
<div class="vb" style="top:498px">133.698</div>
<div class="vu" style="top:506px">A</div>
<div class="vl" style="top:617px">U АБ</div>
<div class="vb" style="top:609px">230.328</div>
<div class="vu" style="top:617px">В</div>
<div class="vl" style="top:647px">I АКБ</div>
<div class="vb" style="top:639px"><span style="display:inline-block;margin-left:-8px;margin-right:-8px">000.0001</span></div>
<div class="vu" style="top:647px">A</div>
<div class="t c" style="left:1681px;top:562px;width:239px;font-size:19px;line-height:22px">Шкаф собственных<br>нужд</div>
<div class="abs" style="left:1702px;top:708px;width:199px;height:160px;background:#e6f2f0;border:1px solid #f4f6ee;overflow:hidden"><div class="li" style="top:0px">КТП №01</div><div class="li" style="top:18px">КТП №03</div><div class="li" style="top:36px">КТП №04</div><div class="li" style="top:54px">КТП №05</div><div class="li" style="top:72px">КТП №06</div><div class="li" style="top:90px">КТП №07</div><div class="li" style="top:108px">КТП №08</div><div class="li" style="top:126px">КТП №09</div><div class="li" style="top:144px">КТП №10</div><div class="abs" style="right:0;top:0;width:16px;height:158px;background:#f6f8f0"></div><div class="abs" style="right:0;top:16px;width:15px;height:102px;background:#c8cac2"></div><svg class="abs" style="right:0;top:0" width="16" height="158" viewBox="0 0 16 158"><path d="M4.500 11l3.500-3.800 3.500 3.800M4.500 148l3.500 3.800 3.500-3.800" fill="none" stroke="#484848" stroke-width="1.800"/></svg></div>
<div class="abs" style="left:1701px;top:878px;width:30px;height:30px;background:#fdfdf6;background-clip:padding-box;border:1px solid rgba(253,253,246,0.5);font-size:12px;line-height:30px;text-align:center;color:#000">+</div>
<div class="abs" style="left:1872px;top:878px;width:30px;height:30px;background:#fdfdf6;background-clip:padding-box;border:1px solid rgba(253,253,246,0.5);font-size:12px;line-height:30px;text-align:center;color:#000">-</div>
<svg class="abs" style="left:1788px;top:877px" width="32" height="32" viewBox="0 0 32 32"><circle cx="16.100" cy="16" r="14.800" fill="#fdfdf6" stroke="#a9c0c8" stroke-width="0.900"/><path d="M24.500 26.200A13.600 13.600 0 1 1 26.800 23.800" fill="none" stroke="#14140e" stroke-width="1.300"/><ellipse cx="16.600" cy="9" rx="2.900" ry="2.300" fill="none" stroke="#14140e" stroke-width="1.400"/><path d="M12.300 13.600Q13.300 12.500 15.500 12.500Q18.400 12.300 18.400 14.800Q18.300 17 17.700 19.500Q17.500 21.500 18.600 23Q18.500 24.800 16 25.200Q13.200 25.400 12.500 23Q12.400 21 13.200 18.500Q13.900 16 13.500 14.200Q13.100 13.700 12.300 13.600Z" fill="none" stroke="#14140e" stroke-width="1.300" stroke-linejoin="round"/></svg>
<svg class="abs" style="left:1745px;top:942px" width="160" height="96" viewBox="1745 942 160 96" font-family="Liberation Sans, sans-serif"><circle cx="1764.500" cy="959.500" r="12" fill="#fc0000" stroke="#3a0a0a" stroke-width="1.200"/><circle cx="1764.500" cy="989.500" r="12" fill="#94ca3c" stroke="#0c1208" stroke-width="1.200"/><circle cx="1764.500" cy="1019.500" r="12" fill="#94ca3c" stroke="#0c1208" stroke-width="1.200"/><rect x="1772" y="974" width="8" height="7.500" fill="#b81818"/><rect x="1772" y="974" width="7.200" height="6.600" fill="#fc0000"/><rect x="1772" y="1004" width="8" height="7.500" fill="#b81818"/><rect x="1772" y="1004" width="7.200" height="6.600" fill="#fc0000"/><text x="1789" y="963" font-size="11" fill="#f3c6ae">КТП</text><text x="1789" y="993" font-size="11" fill="#f3c6ae">Инверторы</text><text x="1789" y="1023" font-size="11" fill="#f3c6ae">РП</text></svg>
<div class="abs" style="left:251px;top:949px;width:1429px;height:71px;background:#e4e9ea;overflow:hidden;font-size:13px;color:#000"><div class="abs" style="left:0;top:0;width:1412px;height:27px;background:#fdfdf6"></div><div class="abs" style="left:1093px;top:12px;width:319px;height:15px;background:#ffffff"></div><div class="abs" style="left:0;top:27px;width:1049px;height:20px;background:#dde0d8"></div><div class="abs" style="left:0;top:47px;width:1049px;height:20px;background:#c8cac0"></div><div class="abs" style="left:0;top:67px;width:1049px;height:4px;background:#dee0d8"></div><div class="abs" style="left:1049px;top:27px;width:44px;height:44px;background:#e4f0ef"></div><div class="abs" style="left:167px;top:0;width:1px;height:27px;background:#e2e4dc"></div><div class="abs" style="left:167px;top:27px;width:1px;height:44px;background:#555"></div><div class="abs" style="left:391px;top:0;width:1px;height:27px;background:#e2e4dc"></div><div class="abs" style="left:391px;top:27px;width:1px;height:44px;background:#555"></div><div class="abs" style="left:615px;top:0;width:1px;height:27px;background:#e2e4dc"></div><div class="abs" style="left:615px;top:27px;width:1px;height:44px;background:#555"></div><div class="abs" style="left:1049px;top:0;width:1px;height:27px;background:#e2e4dc"></div><div class="abs" style="left:1049px;top:27px;width:1px;height:44px;background:#555"></div><div class="abs" style="left:6px;top:7px;line-height:16px;white-space:nowrap">Время</div><div class="abs" style="left:174px;top:7px;line-height:16px;white-space:nowrap">Описание</div><div class="abs" style="left:398px;top:7px;line-height:16px;white-space:nowrap">Идентификатор</div><div class="abs" style="left:622px;top:7px;line-height:16px;white-space:nowrap">Комментарий</div><div class="abs" style="left:5px;top:30px;line-height:16px;white-space:nowrap">01.06.2020 09:59:55</div><div class="abs" style="left:173px;top:30px;line-height:16px;white-space:nowrap">В работе</div><div class="abs" style="left:397px;top:30px;line-height:16px;white-space:nowrap">A01</div><div class="abs" style="left:5px;top:50px;line-height:16px;white-space:nowrap">01.06.2020 09:59:57</div><div class="abs" style="left:173px;top:50px;line-height:16px;white-space:nowrap">В работе</div><div class="abs" style="left:397px;top:50px;line-height:16px;white-space:nowrap">K06</div><svg class="abs" style="left:78px;top:0" width="12" height="8" viewBox="0 0 12 8"><path d="M2 6l4-4 4 4" fill="none" stroke="#555" stroke-width="1"/></svg><div class="abs" style="right:0;top:0;width:17px;height:71px;background:#f1f2ee"></div><div class="abs" style="right:1px;top:37px;width:15px;height:17px;background:#c8cac2"></div><svg class="abs" style="right:0;top:0" width="17" height="71" viewBox="0 0 17 71"><path d="M5 11.500l3.500-3.800 3.500 3.800M5 60.300l3.500 3.800 3.500-3.800" fill="none" stroke="#484848" stroke-width="1.800"/></svg></div>
</body></html>
